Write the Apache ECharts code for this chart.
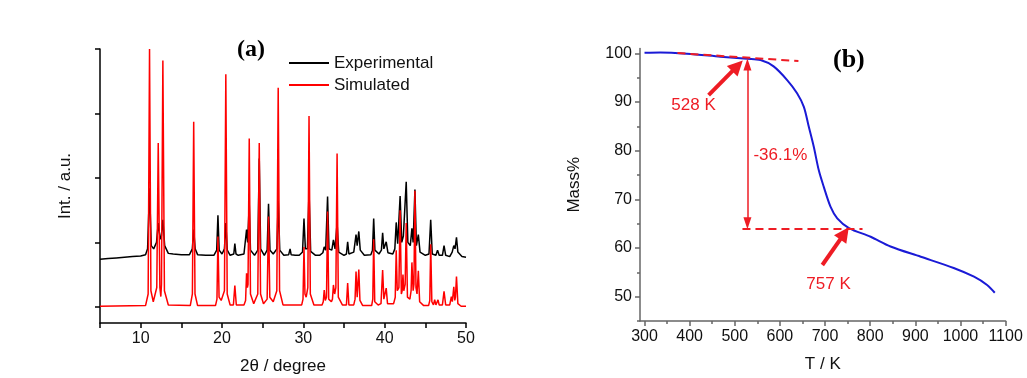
<!DOCTYPE html>
<html>
<head>
<meta charset="utf-8">
<script src="https://cdn.jsdelivr.net/npm/echarts@6/dist/echarts.min.js"></script>
<style>html,body{margin:0;padding:0;background:#fff}#c{width:1027px;height:378px}</style>
</head>
<body>
<div id="c"></div>
<script>
// ---- Panel (a): XRD patterns, [2theta, intensity] ----
const experimental = [
[5,0.74],[6,0.75],[7,0.76],[8,0.77],[9,0.78],[10,0.79],[10.6,0.81],[10.85,0.9],[11.09,1.84],[11.3,0.95],[11.6,0.9],[11.95,1.0],[12.16,1.3],[12.4,1.05],[12.55,1.1],[12.73,1.35],[12.95,0.95],[13.4,0.83],[14,0.82],[15,0.81],[16,0.81],[16.35,0.9],[16.52,1.2],[16.7,0.9],[17.0,0.81],[18,0.8],[19,0.8],[19.35,0.88],[19.5,1.42],[19.65,0.88],[20.0,0.82],[20.3,0.9],[20.47,1.3],[20.65,0.88],[21.0,0.8],[21.45,0.82],[21.58,0.98],[21.72,0.82],[22.0,0.8],[22.7,0.82],[23.02,1.2],[23.15,1.0],[23.35,1.6],[23.5,0.88],[24.0,0.8],[24.4,0.88],[24.58,2.3],[24.75,0.9],[25.2,0.8],[25.55,0.88],[25.72,1.6],[25.9,0.88],[26.3,0.82],[26.75,0.9],[26.91,1.65],[27.1,0.88],[27.6,0.8],[28.2,0.81],[28.37,0.9],[28.5,0.81],[29.0,0.8],[29.5,0.8],[29.9,0.85],[30.08,1.37],[30.25,0.9],[30.5,0.9],[30.7,1.8],[30.9,0.86],[31.5,0.8],[32.0,0.8],[32.4,0.84],[32.57,0.93],[32.75,0.88],[32.98,1.71],[33.15,0.9],[33.5,0.88],[33.7,1.04],[33.9,0.9],[34.15,1.3],[34.35,0.85],[35.0,0.8],[35.3,0.82],[35.45,1.01],[35.6,0.82],[36.2,0.85],[36.48,1.12],[36.62,0.95],[36.82,1.17],[37.0,0.88],[37.5,0.8],[38.3,0.81],[38.5,0.88],[38.65,1.37],[38.8,0.88],[39.3,0.82],[39.6,0.88],[39.75,1.15],[39.9,0.9],[40.19,1.01],[40.4,0.84],[41.0,0.82],[41.25,0.9],[41.42,1.31],[41.6,0.98],[41.9,1.72],[42.1,1.0],[42.3,1.1],[42.65,1.94],[42.85,1.0],[43.15,0.95],[43.35,1.22],[43.5,1.0],[43.72,1.82],[43.9,0.95],[44.14,1.12],[44.35,0.85],[45.0,0.8],[45.45,0.82],[45.66,1.35],[45.85,0.82],[46.3,0.8],[46.5,0.88],[46.7,0.8],[47.1,0.8],[47.3,0.95],[47.5,0.8],[48.0,0.78],[48.3,0.85],[48.5,0.95],[48.65,0.9],[48.83,1.08],[49.0,0.85],[49.5,0.78],[50,0.77]
];
const simulated = [
[5,0.01],[10.6,0.02],[10.92,0.2],[11.09,4.0],[11.26,0.25],[11.55,0.08],[11.98,0.3],[12.16,2.54],[12.36,0.3],[12.48,0.16],[12.56,0.35],[12.73,3.82],[12.92,0.25],[13.4,0.03],[16.1,0.02],[16.36,0.2],[16.52,2.87],[16.68,0.2],[17.0,0.02],[19.2,0.02],[19.38,0.12],[19.5,1.09],[19.64,0.15],[19.9,0.1],[20.3,0.25],[20.47,3.61],[20.64,0.2],[21.0,0.03],[21.4,0.03],[21.58,0.33],[21.76,0.03],[22.7,0.03],[22.9,0.1],[23.02,0.52],[23.12,0.3],[23.2,0.35],[23.35,2.61],[23.5,0.2],[23.9,0.05],[24.4,0.2],[24.58,2.54],[24.74,0.2],[25.1,0.05],[25.55,0.12],[25.72,1.4],[25.88,0.15],[26.3,0.08],[26.74,0.25],[26.91,3.4],[27.08,0.25],[27.5,0.03],[29.8,0.03],[29.96,0.12],[30.08,0.93],[30.2,0.2],[30.35,0.15],[30.55,0.3],[30.7,2.96],[30.86,0.2],[31.3,0.03],[32.3,0.03],[32.45,0.08],[32.57,0.26],[32.7,0.1],[32.85,0.15],[32.98,1.48],[33.12,0.12],[33.45,0.08],[33.58,0.12],[33.7,0.34],[33.85,0.2],[34.0,0.3],[34.15,2.38],[34.3,0.15],[34.8,0.03],[35.3,0.03],[35.45,0.37],[35.6,0.03],[36.2,0.03],[36.36,0.12],[36.48,0.55],[36.62,0.15],[36.7,0.18],[36.82,0.58],[36.96,0.1],[37.3,0.02],[38.4,0.02],[38.54,0.12],[38.65,1.05],[38.78,0.08],[39.2,0.03],[39.55,0.05],[39.75,0.57],[39.9,0.12],[40.05,0.1],[40.19,0.29],[40.35,0.05],[41.1,0.05],[41.3,0.15],[41.42,0.88],[41.55,0.25],[41.75,0.3],[41.9,1.5],[42.05,0.2],[42.15,0.25],[42.25,0.5],[42.35,0.25],[42.52,0.35],[42.65,1.3],[42.8,0.15],[43.1,0.12],[43.25,0.25],[43.35,0.69],[43.5,0.25],[43.6,0.35],[43.72,1.8],[43.85,0.3],[43.98,0.2],[44.14,0.56],[44.3,0.08],[44.8,0.02],[45.4,0.02],[45.55,0.1],[45.66,0.97],[45.8,0.08],[46.0,0.03],[46.15,0.11],[46.3,0.03],[46.42,0.03],[46.56,0.11],[46.7,0.03],[47.1,0.03],[47.3,0.24],[47.5,0.03],[48.0,0.03],[48.2,0.16],[48.32,0.08],[48.5,0.31],[48.62,0.1],[48.7,0.15],[48.83,0.47],[49.0,0.05],[49.4,0.01],[50,0.01]
];
const xTicksA = [5,10,15,20,25,30,35,40,45,50];
const xLabelsA = [10,20,30,40,50];
const yTicksA = [0,1,2,3,4];

// ---- Panel (b): TGA curve [T (K), Mass %] ----
const tga = [
[300,100.1],[335,100.15],[394,99.9],[468,99.3],[527,98.85],[557,98.6],[586,97.3],[616,94.5],[638,91.8],[653,89.0],[664,84.9],[675,80.8],[686,76.0],[697,72.6],[712,68.5],[727,66.1],[753,64.1],[801,62.3],[845,60.3],[912,58.2],[985,55.9],[1030,54.1],[1059,52.4],[1076,50.8]
];
const xLabelsB = [300,400,500,600,700,800,900,1000,1100];
const xMinorB = [350,450,550,650,750,850,950,1050];
const yLabelsB = [50,60,70,80,90,100];
const yMinorB = [45,55,65,75,85,95];
// annotation values
const onsetLine = [[373,100.05],[641,98.4]];
const endLine = [[517,63.9],[783,63.9]];
const lossArrow = [[528,97.7],[528,65.1]];
const arrow528 = [[442,91.4],[506,97.4]];
const arrow757 = [[694,56.5],[743,63.0]];
const notes = [{name:'528 K', coord:[408.6,89.4]},{name:'757 K', coord:[707.7,52.5]},{name:'-36.1%', coord:[601,79.1]}];

const FONT = 'Liberation Sans, Arial, sans-serif';
const RED = '#ee1c24';
const plain = v => String(v);
const chart = echarts.init(document.getElementById('c'), null, {renderer:'canvas'});

function axisA(extra){
  return Object.assign({
    type:'value', splitLine:{show:false},
    axisLine:{show:true, onZero:false, lineStyle:{color:'#000', width:1.5}},
    axisTick:{show:true, inside:false, length:5, lineStyle:{color:'#000', width:1.5}},
    axisLabel:{color:'#111', fontSize:16, fontFamily:FONT, margin:8},
    nameTextStyle:{color:'#111', fontSize:17, fontFamily:FONT}
  }, extra);
}
function axisB(extra){
  return Object.assign({
    type:'value', splitLine:{show:false},
    axisLine:{show:true, onZero:false, lineStyle:{color:'#666', width:1.5}},
    axisTick:{show:true, inside:false, length:5, lineStyle:{color:'#666', width:1.5}},
    axisLabel:{color:'#111', fontSize:16, fontFamily:FONT, margin:8},
    nameTextStyle:{color:'#111', fontSize:17, fontFamily:FONT}
  }, extra);
}

const option = {
  animation:false,
  backgroundColor:'#fff',
  title:[
    {text:'(a)', left:237, top:38, padding:0, textStyle:{fontFamily:'Liberation Serif, Times New Roman, serif', fontWeight:'bold', fontSize:24, color:'#000'}},
    {text:'(b)', left:833, top:47, padding:0, textStyle:{fontFamily:'Liberation Serif, Times New Roman, serif', fontWeight:'bold', fontSize:26, color:'#000'}}
  ],
  legend:{
    data:['Experimental','Simulated'], orient:'vertical', left:289, top:53, padding:0,
    icon:'rect', itemWidth:40, itemHeight:2, itemGap:2,
    textStyle:{fontSize:17, fontFamily:FONT, color:'#111', lineHeight:20, padding:[0,0,0,0]},
    selectedMode:false
  },
  grid:[
    {left:100, top:49, width:366, height:274, containLabel:false, outerBoundsMode:'none'},
    {left:640, top:48.4, width:365.6, height:272.6, containLabel:false, outerBoundsMode:'none'}
  ],
  xAxis:[
    axisA({gridIndex:0, min:5, max:50, name:'2θ / degree', nameLocation:'middle', nameGap:35,
      axisTick:{show:true, length:5, customValues:xTicksA, lineStyle:{color:'#000', width:1.5}},
      axisLabel:{color:'#111', fontSize:16, fontFamily:FONT, margin:8, customValues:xLabelsA, formatter:plain}}),
    axisB({gridIndex:1, min:290, max:1100, name:'T / K', nameLocation:'middle', nameGap:35,
      axisTick:{show:true, length:5, customValues:xLabelsB, lineStyle:{color:'#666', width:1.5}},
      axisLabel:{color:'#111', fontSize:16, fontFamily:FONT, margin:8, customValues:xLabelsB, formatter:plain}}),
    axisB({gridIndex:1, min:290, max:1100, position:'bottom', offset:0,
      axisLine:{show:false},
      axisTick:{show:true, length:3, customValues:xMinorB, lineStyle:{color:'#666', width:1.5}},
      axisLabel:{show:false}})
  ],
  yAxis:[
    axisA({gridIndex:0, min:-0.25, max:4, name:'Int. / a.u.', nameLocation:'middle', nameGap:26,
      axisTick:{show:true, length:5, customValues:yTicksA, lineStyle:{color:'#000', width:1.5}},
      axisLabel:{show:false}}),
    axisB({gridIndex:1, min:45, max:101, name:'Mass%', nameLocation:'middle', nameGap:57,
      axisTick:{show:true, length:5, customValues:yLabelsB, lineStyle:{color:'#666', width:1.5}},
      axisLabel:{color:'#111', fontSize:16, fontFamily:FONT, margin:8, customValues:yLabelsB, formatter:plain}}),
    axisB({gridIndex:1, min:45, max:101, position:'left', offset:0,
      axisLine:{show:false},
      axisTick:{show:true, length:3, customValues:yMinorB, lineStyle:{color:'#666', width:1.5}},
      axisLabel:{show:false}})
  ],
  series:[
    {name:'Experimental', type:'line', xAxisIndex:0, yAxisIndex:0, data:experimental,
      showSymbol:false, symbol:'none', color:'#000', lineStyle:{color:'#000', width:1.5}, z:2},
    {name:'Simulated', type:'line', xAxisIndex:0, yAxisIndex:0, data:simulated,
      showSymbol:false, symbol:'none', color:'#ff0000', lineStyle:{color:'#ff0000', width:1.5}, z:3},
    {name:'TGA', type:'line', xAxisIndex:1, yAxisIndex:1, data:tga, smooth:0.3,
      showSymbol:false, symbol:'none', color:'#1a1ad6', lineStyle:{color:'#1a1ad6', width:2}, z:3,
      markLine:{silent:true, animation:false, symbol:'none', label:{show:false},
        data:[
          [{coord:onsetLine[0], lineStyle:{color:RED, width:2, type:[8,5]}}, {coord:onsetLine[1]}],
          [{coord:endLine[0], lineStyle:{color:RED, width:2, type:[8,5]}}, {coord:endLine[1]}],
          [{coord:lossArrow[0], symbol:'triangle', symbolSize:[8,12], lineStyle:{color:RED, width:1.5, type:'solid'}},
           {coord:lossArrow[1], symbol:'triangle', symbolSize:[8,12]}],
          [{coord:arrow528[0], symbol:'none', lineStyle:{color:RED, width:4, type:'solid'}},
           {coord:arrow528[1], symbol:'triangle', symbolSize:[15,15]}],
          [{coord:arrow757[0], symbol:'none', lineStyle:{color:RED, width:4, type:'solid'}},
           {coord:arrow757[1], symbol:'triangle', symbolSize:[15,15]}]
        ]},
      markPoint:{silent:true, animation:false, symbol:'circle', symbolSize:1,
        itemStyle:{color:'rgba(0,0,0,0)'},
        label:{show:true, position:'inside', formatter:'{b}', color:RED, fontSize:17, fontFamily:FONT},
        data:notes}
    }
  ]
};
chart.setOption(option);
</script>
</body>
</html>
